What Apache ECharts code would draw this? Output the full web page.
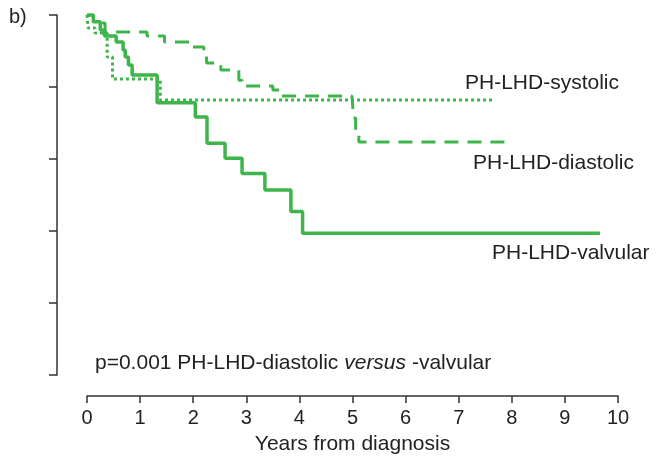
<!DOCTYPE html>
<html>
<head>
<meta charset="utf-8">
<script src="https://cdn.jsdelivr.net/npm/echarts@6/dist/echarts.min.js"></script>
<style>
  html, body { margin: 0; padding: 0; background: #fff; }
  #main { width: 667px; height: 460px; }
</style>
</head>
<body>
<div id="main"></div>
<script>
// survival curves: [years, proportion surviving]
var systolic = [
    [0, 1.0], [0.02, 0.964], [0.15, 0.95], [0.38, 0.883], [0.48, 0.822],
    [1.38, 0.764], [7.68, 0.764]
];
var diastolic = [
    [0, 1.0], [0.12, 0.978], [0.34, 0.953], [1.13, 0.942], [1.46, 0.925],
    [1.95, 0.911], [2.2, 0.889], [2.25, 0.867], [2.52, 0.847], [2.86, 0.819],
    [2.92, 0.803], [3.5, 0.792], [3.63, 0.775], [4.99, 0.775], [5.02, 0.714],
    [5.06, 0.672], [5.12, 0.647], [7.99, 0.647]
];
var valvular = [
    [0, 1.0], [0.12, 0.981], [0.25, 0.958], [0.33, 0.942], [0.55, 0.925],
    [0.68, 0.903], [0.72, 0.883], [0.78, 0.861], [0.85, 0.833], [1.32, 0.756],
    [2.04, 0.717], [2.26, 0.644], [2.6, 0.602], [2.92, 0.56], [3.35, 0.514],
    [3.84, 0.454], [4.06, 0.394], [9.66, 0.394]
];
var seriesNames = ["PH-LHD-systolic", "PH-LHD-diastolic", "PH-LHD-valvular"];
var xTicks = [0, 1, 2, 3, 4, 5, 6, 7, 8, 9, 10];

var green = "#3db54a";
var ink = "#222";
var font = "'Liberation Sans', Arial, sans-serif";

var chart = echarts.init(document.getElementById("main"));

function txt(str, x, y, extra) {
    var style = {
        text: str,
        fill: ink,
        fontSize: 21,
        fontFamily: font,
        verticalAlign: "middle"
    };
    for (var k in extra) style[k] = extra[k];
    return { type: "text", x: x, y: y, style: style };
}

var option = {
    animation: false,
    backgroundColor: "#fff",
    grid: { left: 87, right: 49, top: 15, bottom: 85 },
    xAxis: {
        type: "value",
        min: xTicks[0],
        max: xTicks[xTicks.length - 1],
        interval: 1,
        offset: 21,
        name: "Years from diagnosis",
        nameLocation: "middle",
        nameGap: 38,
        nameTextStyle: { fontSize: 21, color: ink, fontFamily: font },
        axisLine: { onZero: false, lineStyle: { color: "#333", width: 1.5 } },
        axisTick: { length: 7, lineStyle: { color: "#333", width: 1.5 } },
        axisLabel: { fontSize: 20, color: ink, fontFamily: font, margin: 12 },
        splitLine: { show: false }
    },
    yAxis: {
        type: "value",
        min: 0,
        max: 1,
        interval: 0.2,
        offset: 30,
        axisLine: { show: true, onZero: false, lineStyle: { color: "#333", width: 1.5 } },
        axisTick: { show: true, length: 8, lineStyle: { color: "#333", width: 1.5 } },
        axisLabel: { show: false },
        splitLine: { show: false }
    },
    series: [
        {
            name: seriesNames[1],
            type: "line",
            step: "end",
            symbol: "none",
            data: diastolic,
            lineStyle: { color: green, width: 3, type: [14, 9] }
        },
        {
            name: seriesNames[0],
            type: "line",
            step: "end",
            symbol: "none",
            data: systolic,
            lineStyle: { color: green, width: 3, type: [3, 3] }
        },
        {
            name: seriesNames[2],
            type: "line",
            step: "end",
            symbol: "none",
            data: valvular,
            lineStyle: { color: green, width: 3.5 }
        }
    ],
    graphic: [
        txt("b)", 9, 17, { fontSize: 20 }),
        txt(seriesNames[0], 465, 83),
        txt(seriesNames[1], 473, 163),
        txt(seriesNames[2], 492, 253),
        txt("p=0.001 PH-LHD-diastolic {i|versus} -valvular", 95, 363, {
            rich: { i: { fontStyle: "italic", fontSize: 21, fontFamily: font, fill: ink } }
        })
    ]
};

chart.setOption(option);
</script>
</body>
</html>
